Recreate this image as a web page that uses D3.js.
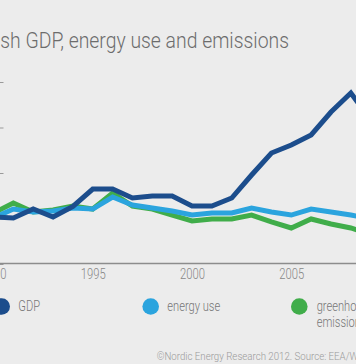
<!DOCTYPE html>
<html><head><meta charset="utf-8">
<script src="https://cdn.jsdelivr.net/npm/d3@7"></script>
<style>
html,body{margin:0;padding:0;background:#ececec;overflow:hidden}
svg{display:block}
</style></head><body>
<svg id="c" width="356" height="364"></svg>
<script>
const years = [1990,1991,1992,1993,1994,1995,1996,1997,1998,1999,2000,2001,2002,2003,2004,2005,2006,2007,2008,2009];
const gdp = [101.6,100.5,110.4,101.6,113.2,132.4,132.4,122.5,124.7,124.7,113.7,113.7,122.5,147.8,172.0,180.8,191.8,217.0,237.9,208.0];
const energyUse = [100.5,110.4,107.1,108.2,111.5,110.4,123.6,114.8,111.5,108.2,103.8,106.0,106.0,111.5,107.1,103.8,110.4,107.1,103.8,99.5];
const emissions = [106.0,117.0,107.1,109.3,113.7,110.4,128.0,113.7,110.4,103.8,97.3,99.5,99.5,103.8,96.2,89.6,99.5,94.0,89.6,83.0];
const yTicks = [50,100,150,200,250];
const xTicks = [1990,1995,2000,2005,2010];
const seriesNames = ["GDP","energy use","greenhouse gas emissions"];
const colors = ["#1c4d8c","#2ba4de","#40ad4a"];
const titleText = "Danish GDP, energy use and emissions";
const footerText = "\u00A9Nordic Energy Research 2012. Source: EEA/World Bank";

const FONT = "Roboto, 'Open Sans', sans-serif";
const FW = 300;
const svg = d3.select("#c");
svg.append("rect").attr("width",356).attr("height",364).attr("fill","#ececec");

const x = d3.scaleLinear().domain([1990,2009]).range([-6.5,370.7]);
const y = d3.scaleLinear().domain([50,250]).range([264,82]);

function condense(sel, targetWidth, start, len){
  const n = sel.node();
  const w = (start===undefined) ? n.getComputedTextLength() : n.getSubStringLength(start, len);
  return targetWidth / w;
}

// title
const title = svg.append("text").text(titleText)
  .attr("font-family",FONT).attr("font-weight",FW).attr("font-size",22).attr("fill","#6c6c6c")
  .attr("text-anchor","end");
const tsx = condense(title, 289, 4, titleText.length-4);
title.attr("transform",`translate(289,48) scale(${tsx},1)`);

// y axis tick marks (their labels lie outside the cropped view)
const yAxis = svg.append("g").attr("transform","translate(3.5,0)")
  .call(d3.axisLeft(y).tickValues(yTicks).tickSize(4).tickFormat(""));
yAxis.select(".domain").remove();
yAxis.selectAll(".tick text").remove();
yAxis.selectAll(".tick line").attr("stroke","#9a9a9a").attr("stroke-width",1);

// x axis
const xAxis = svg.append("g").attr("transform","translate(0,263.5)")
  .call(d3.axisBottom(x).tickValues(xTicks).tickFormat(d3.format("d")).tickSize(0).tickPadding(6));
xAxis.select(".domain").attr("d","M-10,0H400").attr("stroke","#8c8c8c").attr("stroke-width",1.5);
const xt = xAxis.selectAll(".tick text").attr("font-family",FONT).attr("font-weight",FW).attr("font-size",14).attr("fill","#888");
const probe = xAxis.selectAll(".tick text").filter(d=>d===1995);
const xsx = condense(probe, 25);
xt.attr("transform",`scale(${xsx},1)`);

// lines
const line = d3.line().x((d,i)=>x(years[i])).y(d=>y(d));
const data = [emissions, energyUse, gdp];
const dcol = [colors[2], colors[1], colors[0]];
svg.append("g").selectAll("path").data(data).join("path")
  .attr("d",line).attr("fill","none")
  .attr("stroke",(d,i)=>dcol[i]).attr("stroke-width",5)
  .attr("stroke-linejoin","miter").attr("stroke-miterlimit",3);

// legend
const legPos = [{cx:1.7,tx:18.3},{cx:150.7,tx:167.3},{cx:299.3,tx:316.7}];
const leg = svg.append("g");
leg.selectAll("circle").data(seriesNames).join("circle")
  .attr("cx",(d,i)=>legPos[i].cx).attr("cy",306.5).attr("r",8.3).attr("fill",(d,i)=>colors[i]);
const lt = leg.selectAll("text").data(seriesNames).join("text")
  .attr("font-family",FONT).attr("font-weight",FW).attr("font-size",14).attr("fill","#777");
lt.each(function(d,i){
  const t = d3.select(this);
  if(i===2){
    t.append("tspan").attr("x",0).attr("y",0).text("greenhouse gas");
    t.append("tspan").attr("x",0).attr("y",16.5).text("emissions");
  } else {
    t.text(d);
  }
});
const probeL = lt.filter((d,i)=>i===1);
const lsx = condense(probeL, 53);
lt.attr("transform",(d,i)=>`translate(${legPos[i].tx},311) scale(${lsx},1)`);

// footer
const foot = svg.append("text").text(footerText)
  .attr("font-family",FONT).attr("font-weight",FW).attr("font-size",11).attr("fill","#9a9a9a");
const fsx = condense(foot, 193, 0, footerText.indexOf("World"));
foot.attr("transform",`translate(156.7,359.5) scale(${fsx},1)`);
</script>
</body></html>
